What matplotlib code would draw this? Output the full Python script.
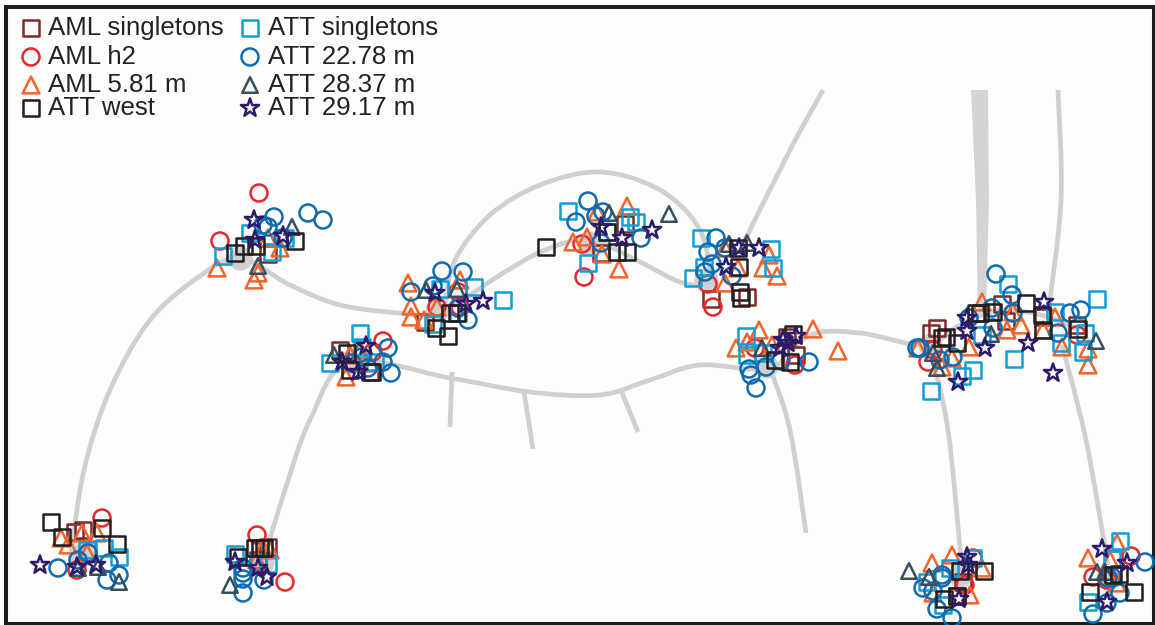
import matplotlib
matplotlib.use("Agg")
import matplotlib.pyplot as plt
from matplotlib.path import Path
from matplotlib.patches import PathPatch, Rectangle, Polygon
import numpy as np

plt.rcParams['font.family'] = ['Liberation Sans', 'DejaVu Sans']

# Survey points, in picture coordinates
aml_singletons = [(268,254),(340,350),(370,372),(425,322),(625,224),(601,253),(711,299),(747,297),
 (787,337),(796,355),(937,328),(931,333),(1002,304),(1006,321),(1043,317),(1077,325),(75,532),(83,530),
 (268,547),(258,560),(963,582),(957,596)]
aml_h2 = [(259,193),(220,241),(383,341),(373,352),(437,307),(458,292),(460,307),(582,244),(584,277),
 (708,284),(713,307),(755,348),(795,365),(928,362),(1077,335),(933,350),(102,518),(77,570),(88,553),
 (257,535),(285,582),(973,558),(965,585),(1131,556),(1093,577),(1107,580)]
aml_581 = [(217,268),(254,280),(258,273),(268,238),(280,248),(346,377),(350,355),(370,363),(360,350),
 (408,283),(411,306),(411,317),(424,320),(460,280),(437,307),(627,206),(573,242),(587,237),(597,212),
 (619,269),(602,254),(725,248),(769,255),(763,268),(777,276),(738,268),(725,283),(759,330),(736,348),
 (747,342),(813,329),(838,351),(772,345),(982,302),(1013,312),(1021,325),(1007,330),(969,347),(952,358),
 (942,367),(1043,330),(1055,317),(1062,347),(1088,349),(1088,365),(918,348),(61,538),(68,545),(82,533),
 (97,533),(87,553),(270,550),(257,560),(263,548),(932,563),(952,555),(982,568),(933,593),(970,595),
 (1117,543),(1088,558),(1110,560),(1117,583)]
att_west = [(235,253),(244,246),(256,246),(295,241),(347,353),(350,370),(372,372),(450,313),(457,313),
 (436,328),(448,336),(546,247),(607,232),(617,252),(627,252),(738,248),(739,267),(740,292),(741,298),
 (775,360),(793,334),(790,362),(942,338),(946,337),(957,343),(976,313),(993,312),(1026,303),(1042,315),
 (1043,330),(1078,329),(980,313),(51,522),(62,537),(102,528),(117,544),(255,548),(260,548),(238,557),
 (264,548),(960,571),(984,571),(944,599),(957,596),(1119,574),(1134,592),(1090,592),(1113,575)]
att_singletons = [(223,256),(250,233),(272,252),(285,238),(360,333),(362,347),(330,363),(375,362),
 (440,289),(474,287),(503,300),(433,324),(458,313),(568,211),(630,217),(636,222),(607,232),(588,263),
 (701,238),(771,249),(773,268),(693,278),(704,267),(746,336),(747,355),(763,353),(1008,284),(1097,299),
 (973,370),(962,376),(931,391),(1014,359),(982,335),(1055,312),(1061,343),(1083,352),(1085,333),
 (87,550),(104,548),(119,557),(235,554),(268,564),(258,563),(927,582),(950,568),(943,605),(973,558),
 (1120,541),(1112,559),(1088,602)]
att_2278 = [(274,217),(308,213),(323,220),(263,225),(283,238),(268,227),(388,348),(383,362),(391,373),
 (362,357),(352,363),(368,368),(442,271),(463,272),(433,286),(411,292),(468,320),(458,308),(588,201),
 (576,222),(596,216),(603,212),(601,243),(641,238),(716,238),(708,252),(725,248),(712,264),(705,272),
 (732,276),(749,369),(751,375),(756,388),(766,367),(781,361),(809,362),(996,274),(1012,295),(992,308),
 (1013,313),(1070,313),(1081,310),(1058,333),(969,318),(993,328),(917,348),(953,357),(920,348),(940,360),
 (58,568),(78,560),(109,563),(119,575),(107,580),(88,553),(243,593),(243,579),(243,573),(264,580),(243,568),
 (942,575),(923,588),(933,591),(937,609),(952,618),(942,578),(1145,562),(1112,577),(1108,578),(1120,593),
 (1107,603),(1093,614)]
att_2837 = [(292,227),(258,266),(334,355),(426,290),(457,289),(609,213),(669,214),(729,244),(747,243),
 (762,348),(937,368),(933,353),(991,334),(1096,341),(119,582),(78,568),(98,567),(230,585),(909,571),(929,577),
 (1097,572),(1105,572)]
att_2917 = [(254,220),(255,240),(283,236),(366,346),(342,362),(358,372),(435,293),(466,304),(483,301),
 (601,227),(622,238),(652,230),(739,248),(759,248),(726,267),(783,340),(796,336),(788,343),(780,348),
 (967,318),(967,331),(985,348),(1028,343),(1044,302),(1053,373),(958,382),(40,565),(77,567),(96,565),
 (235,562),(258,568),(267,577),(967,557),(968,565),(959,599),(1102,549),(1127,563),(1107,602)]

# Series styling in legend order, with draw order given separately
series = [
 ("AML singletons", aml_singletons, "s", "#7d2b2b", 125),
 ("AML h2", aml_h2, "o", "#e9262c", 150),
 ("AML 5.81 m", aml_581, "^", "#f0652a", 145),
 ("ATT west", att_west, "s", "#231f20", 125),
 ("ATT singletons", att_singletons, "s", "#0f9fd8", 125),
 ("ATT 22.78 m", att_2278, "o", "#0f6cb0", 150),
 ("ATT 28.37 m", att_2837, "^", "#34505f", 125),
 ("ATT 29.17 m", att_2917, "*", "#2e1a6b", 190),
]
draw_order = [0, 1, 2, 4, 5, 6, 3, 7]

# Stream network centre lines
streams = [
 [(70,562),(84,470),(110,390),(150,320),(200,276),(240,258),(290,285),(340,305),(400,313),(440,313),
  (500,275),(545,250),(590,240),(640,262),(680,282),(712,286)],
 [(445,305),(455,260),(490,215),(540,185),(600,172),(660,190),(700,230),(712,285)],
 [(823,90),(790,150),(745,240)],
 [(262,565),(285,490),(310,420),(350,362),(450,378),(530,392),(600,395),(650,380),(700,365),(770,368),
  (810,335),(860,333),(925,345),(960,325),(1000,310),(1045,316),(1080,330)],
 [(770,368),(790,430),(806,533)],
 [(930,350),(948,430),(962,570)],
 [(1058,90),(1061,200),(1048,315)],
 [(1062,345),(1086,440),(1108,565)],
 [(452,372),(450,427)],
 [(524,392),(533,449)],
 [(621,390),(638,432)],
]
channel_left = [(971,90),(976,200),(978,315)]
channel_right = [(988,90),(989,200),(986,315)]
junctions = [(240,258),(437,310),(590,243),(706,280),(766,366),(930,345),(350,362),(82,555),(262,562),(960,575),(1108,578)]

legend_rows = [28, 57, 85, 108]
legend_marker_x = [31, 250]
legend_text_x = [48, 268]

fig = plt.figure(figsize=(11.55, 6.25), dpi=100, facecolor="white")
ax = fig.add_axes([0, 0, 1, 1])
ax.set_xlim(0, 1155)
ax.set_ylim(625, 0)
ax.axis("off")

# Black frame with its outer edge inset on the top and left
ax.add_patch(Rectangle((6, 7), 1147.5, 616.5, fc="#fdfdfb", ec="#1c1c1c", lw=2.9, zorder=0))

GREY = "#d0d0d0"
def smooth(pts):
    """Catmull-Rom path through the given centre line points."""
    p = [np.array(q, float) for q in pts]
    verts, codes = [tuple(p[0])], [Path.MOVETO]
    for i in range(len(p) - 1):
        a = p[i - 1] if i > 0 else p[i]
        b, c = p[i], p[i + 1]
        d = p[i + 2] if i + 2 < len(p) else p[i + 1]
        verts += [tuple(b + (c - a) / 6), tuple(c - (d - b) / 6), tuple(c)]
        codes += [Path.CURVE4] * 3
    return Path(verts, codes)

for s in streams:
    ax.add_patch(PathPatch(smooth(s), fc="none", ec=GREY, lw=3.4, capstyle="butt", zorder=1))
ax.add_patch(Polygon(channel_left + channel_right[::-1], closed=True, fc="#d4d4d4", ec="none", zorder=1))
jx, jy = zip(*junctions)
ax.scatter(jx, jy, s=300, c=GREY, linewidths=0, zorder=1)

for k, i in enumerate(draw_order):
    name, pts, m, c, size = series[i]
    x, y = zip(*pts)
    ax.scatter(x, y, s=size, marker=m, facecolors="none", edgecolors=c, linewidths=1.8, zorder=3 + k)

for i, (name, pts, m, c, size) in enumerate(series):
    col = i // 4
    y = legend_rows[i % 4]
    ax.scatter([legend_marker_x[col]], [y], s=size, marker=m, facecolors="none",
               edgecolors=c, linewidths=1.8, zorder=12)
    ax.text(legend_text_x[col], y, name, fontsize=18.6, color="#222222", va="center", ha="left", zorder=12)

fig.savefig("out.png", dpi=100)
